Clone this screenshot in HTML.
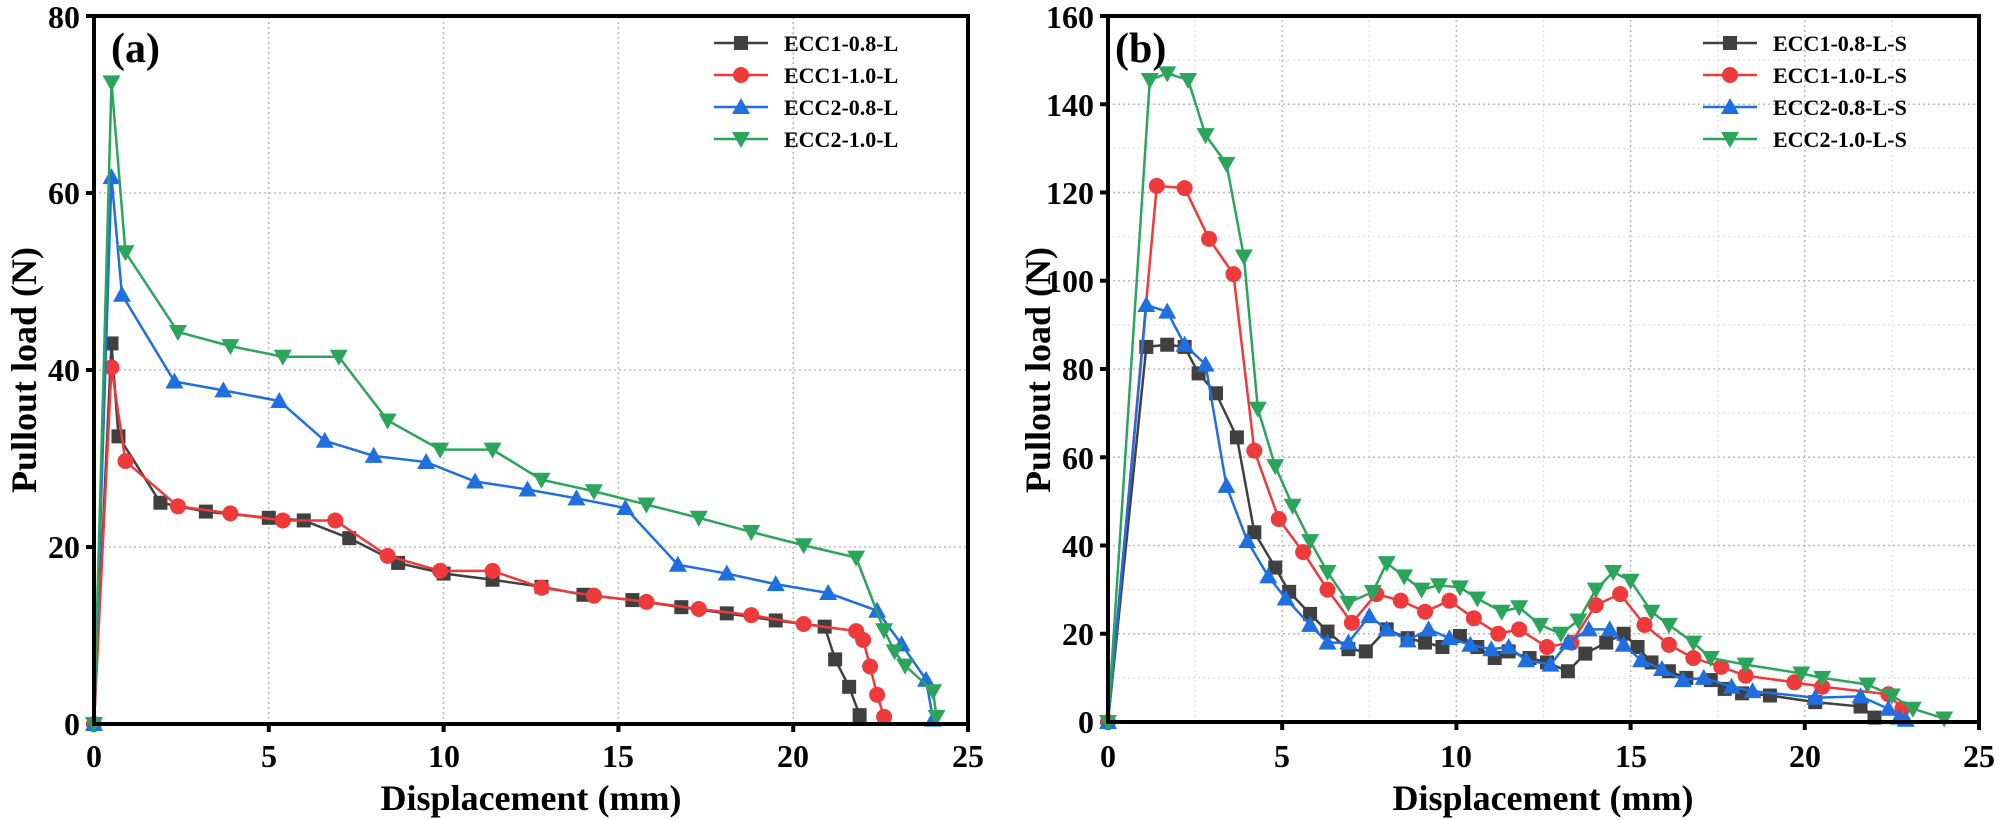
<!DOCTYPE html>
<html><head><meta charset="utf-8"><style>
html,body{margin:0;padding:0;background:#fff;}
svg{display:block;font-family:"Liberation Serif",serif;font-weight:bold;}
</style></head><body>
<svg id="s" width="2000" height="820" xmlns="http://www.w3.org/2000/svg">
<g id="grid"></g>
<g id="series"></g>
<!-- Panel a axes -->
<rect x="94" y="16" width="874" height="708" fill="none" stroke="#000" stroke-width="4"/>
<rect x="1108" y="16" width="871" height="706" fill="none" stroke="#000" stroke-width="4"/>
<g font-size="32" text-anchor="end">
<text x="80" y="735">0</text><text x="80" y="558">20</text><text x="80" y="381">40</text><text x="80" y="204">60</text><text x="80" y="28">80</text>
<text x="1094" y="733">0</text><text x="1094" y="645">20</text><text x="1094" y="557">40</text><text x="1094" y="469">60</text><text x="1094" y="380">80</text><text x="1094" y="292">100</text><text x="1094" y="204">120</text><text x="1094" y="116">140</text><text x="1094" y="28">160</text>
</g>
<g font-size="32" text-anchor="middle">
<text x="94" y="767">0</text><text x="269" y="767">5</text><text x="444" y="767">10</text><text x="618" y="767">15</text><text x="793" y="767">20</text><text x="968" y="767">25</text>
<text x="1108" y="767">0</text><text x="1282" y="767">5</text><text x="1456" y="767">10</text><text x="1631" y="767">15</text><text x="1805" y="767">20</text><text x="1979" y="767">25</text>
</g>
<g font-size="36" text-anchor="middle">
<text x="531" y="810">Displacement (mm)</text>
<text x="1543" y="810">Displacement (mm)</text>
<text transform="translate(36,370) rotate(-90)">Pullout load (N)</text>
<text transform="translate(1050,370) rotate(-90)">Pullout load (N)</text>
</g>
<g font-size="42"><text x="111" y="62">(a)</text><text x="1115" y="62">(b)</text></g>
<g id="legend" font-size="22"></g>
</svg>
<script>
var NS="http://www.w3.org/2000/svg";
function el(p,t,a){var e=document.createElementNS(NS,t);for(var k in a)e.setAttribute(k,a[k]);p.appendChild(e);return e;}
var grid=document.getElementById('grid'),ser=document.getElementById('series'),leg=document.getElementById('legend');
var A={x0:94,x1:968,y0:724,y1:16,ymax:80},B={x0:1108,x1:1979,y0:722,y1:16,ymax:160};
function X(P,v){return P.x0+v/25*(P.x1-P.x0);}
function Y(P,v){return P.y0-v/P.ymax*(P.y0-P.y1);}
function dl(x1,y1,x2,y2,c){el(grid,'line',{x1:x1,y1:y1,x2:x2,y2:y2,stroke:c,'stroke-width':1.5,'stroke-dasharray':'2,3'});}
[5,10,15,20].forEach(function(v){dl(X(A,v),A.y0,X(A,v),A.y1,'#bbb');});
[20,40,60].forEach(function(v){dl(A.x0,Y(A,v),A.x1,Y(A,v),'#bbb');});
[2.5,7.5,12.5,17.5,22.5].forEach(function(v){dl(X(B,v),B.y0,X(B,v),B.y1,'#e4e4e4');});
[10,30,50,70,90,110,130,150].forEach(function(v){dl(B.x0,Y(B,v),B.x1,Y(B,v),'#e4e4e4');});
[5,10,15,20].forEach(function(v){dl(X(B,v),B.y0,X(B,v),B.y1,'#bbb');});
[20,40,60,80,100,120,140].forEach(function(v){dl(B.x0,Y(B,v),B.x1,Y(B,v),'#bbb');});
// ticks
[0,20,40,60,80].forEach(function(v){el(grid,'line',{x1:A.x0-8,y1:Y(A,v),x2:A.x0,y2:Y(A,v),stroke:'#000','stroke-width':4});});
for(var v=0;v<=160;v+=20)el(grid,'line',{x1:B.x0-8,y1:Y(B,v),x2:B.x0,y2:Y(B,v),stroke:'#000','stroke-width':4});
[0,5,10,15,20,25].forEach(function(v){el(grid,'line',{x1:X(A,v),y1:A.y0,x2:X(A,v),y2:A.y0+8,stroke:'#000','stroke-width':4});el(grid,'line',{x1:X(B,v),y1:B.y0,x2:X(B,v),y2:B.y0+8,stroke:'#000','stroke-width':4});});
var C={k:'#404040',r:'#ee3a3a',b:'#1f6fe0',g:'#2ca55c'};
function mk(p,type,x,y,c){var s=8;
 if(type=='sq')el(p,'rect',{x:x-s+1,y:y-s+1,width:2*s-2,height:2*s-2,fill:c});
 else if(type=='ci')el(p,'circle',{cx:x,cy:y,r:s,fill:c});
 else if(type=='up')el(p,'polygon',{points:(x)+','+(y-s-1)+' '+(x-s-1)+','+(y+s-1)+' '+(x+s+1)+','+(y+s-1),fill:c});
 else el(p,'polygon',{points:(x)+','+(y+s+1)+' '+(x-s-1)+','+(y-s+1)+' '+(x+s+1)+','+(y-s+1),fill:c});}
function draw(P,d,c,type){var pts=d.map(function(q){return [X(P,q[0]),Y(P,q[1])];});
 el(ser,'polyline',{points:pts.map(function(p){return p.join(',');}).join(' '),fill:'none',stroke:c,'stroke-width':2.5});
 pts.forEach(function(p){mk(ser,type,p[0],p[1],c);});}
var a_k=[[0,0],[0.5,43],[0.7,32.5],[1.9,25],[3.2,24],[5,23.3],[6,23],[7.3,21],[8.7,18.2],[10,17],[11.4,16.3],[12.8,15.5],[14,14.6],[15.4,14],[16.8,13.2],[18.1,12.5],[19.5,11.7],[20.9,11],[21.2,7.3],[21.6,4.2],[21.9,1]];
var a_r=[[0,0],[0.5,40.3],[0.9,29.7],[2.4,24.6],[3.9,23.8],[5.4,23],[6.9,23],[8.4,19],[9.9,17.3],[11.4,17.3],[12.8,15.4],[14.3,14.5],[15.8,13.8],[17.3,13],[18.8,12.3],[20.3,11.3],[21.8,10.5],[22,9.5],[22.2,6.5],[22.4,3.3],[22.6,0.8]];
var a_b=[[0,0],[0.5,61.8],[0.8,48.5],[2.3,38.7],[3.7,37.7],[5.3,36.5],[6.6,32],[8,30.3],[9.5,29.6],[10.9,27.4],[12.4,26.5],[13.8,25.5],[15.2,24.4],[16.7,18],[18.1,17],[19.5,15.8],[21,14.8],[22.4,12.8],[23.1,9],[23.8,5],[24,0.5]];
var a_g=[[0,0],[0.5,72.5],[0.9,53.3],[2.4,44.3],[3.9,42.7],[5.4,41.5],[7,41.5],[8.4,34.3],[9.9,31],[11.4,31],[12.8,27.6],[14.3,26.3],[15.8,24.8],[17.3,23.3],[18.8,21.7],[20.3,20.2],[21.8,18.8],[22.6,10.6],[22.9,8.2],[23.2,6.6],[24,3.7],[24.1,0.8]];
var b_g=[[0,0],[1.2,145.5],[1.7,147],[2.3,145.5],[2.8,133],[3.4,126.5],[3.9,105.5],[4.3,71],[4.8,58],[5.3,49],[5.8,41],[6.3,34],[6.9,27],[7.6,29.5],[8.0,36],[8.5,33],[9.0,30],[9.5,31],[10.1,30.5],[10.6,28],[11.3,25],[11.8,26],[12.4,22],[13,20],[13.5,23],[14,30],[14.5,34],[15,32],[15.6,25],[16.1,22],[16.8,18],[17.3,14.5],[18.3,13],[19.9,11],[20.5,10],[21.8,8.5],[22.5,6],[23.1,3],[24,0.8]];
var b_r=[[0,0],[1.4,121.5],[2.2,121],[2.9,109.5],[3.6,101.5],[4.2,61.5],[4.9,46],[5.6,38.5],[6.3,30],[7.0,22.5],[7.7,29],[8.4,27.5],[9.1,25],[9.8,27.5],[10.5,23.5],[11.2,20],[11.8,21],[12.6,17],[13.3,18],[14,26.5],[14.7,29],[15.4,22],[16.1,17.5],[16.8,14.5],[17.6,12.5],[18.3,10.5],[19.7,9],[20.5,8],[22.4,6.3],[22.8,3]];
var b_k=[[0,0],[1.1,85],[1.7,85.5],[2.2,85],[2.6,79],[3.1,74.5],[3.7,64.5],[4.2,43],[4.8,35],[5.2,29.5],[5.8,24.5],[6.3,20.5],[6.9,16.5],[7.4,16],[8.0,21],[8.6,19],[9.1,18],[9.6,17],[10.1,19.5],[10.6,17],[11.1,14.5],[11.5,16],[12.1,14.5],[12.6,13.5],[13.2,11.5],[13.7,15.5],[14.3,18],[14.8,20],[15.2,17],[15.6,13.5],[16.1,11.5],[16.6,10],[17.3,9.5],[17.7,7.5],[18.2,6.5],[19,6],[20.3,4.5],[21.6,3.5],[22,1]];
var b_b=[[0,0],[1.1,94.5],[1.7,93],[2.2,85.5],[2.8,81],[3.4,53.5],[4,41],[4.6,33],[5.1,28],[5.8,22],[6.3,18],[6.9,18],[7.5,24],[8,21],[8.6,18.5],[9.2,21],[9.8,19],[10.4,17.5],[11,16.5],[11.5,17],[12,14],[12.7,13],[13.2,18],[13.8,21],[14.4,21],[14.8,17.5],[15.3,14],[15.9,12],[16.5,9.5],[17.1,10],[17.9,8],[18.5,7],[20.3,5.5],[21.6,5.8],[22.4,3],[22.7,1],[22.9,0.5]];
draw(A,a_k,C.k,'sq');draw(A,a_r,C.r,'ci');draw(A,a_b,C.b,'up');draw(A,a_g,C.g,'dn');
draw(B,b_k,C.k,'sq');draw(B,b_r,C.r,'ci');draw(B,b_b,C.b,'up');draw(B,b_g,C.g,'dn');
function legend(x,names){var ys=[43,75,107,139],cs=[C.k,C.r,C.b,C.g],ts=['sq','ci','up','dn'];
 for(var i=0;i<4;i++){el(leg,'line',{x1:x,y1:ys[i],x2:x+54,y2:ys[i],stroke:cs[i],'stroke-width':2.5});mk(leg,ts[i],x+27,ys[i],cs[i]);
 var t=el(leg,'text',{x:x+70,y:ys[i]+8});t.textContent=names[i];}}
legend(714,['ECC1-0.8-L','ECC1-1.0-L','ECC2-0.8-L','ECC2-1.0-L']);
legend(1703,['ECC1-0.8-L-S','ECC1-1.0-L-S','ECC2-0.8-L-S','ECC2-1.0-L-S']);
</script>
</body></html>
